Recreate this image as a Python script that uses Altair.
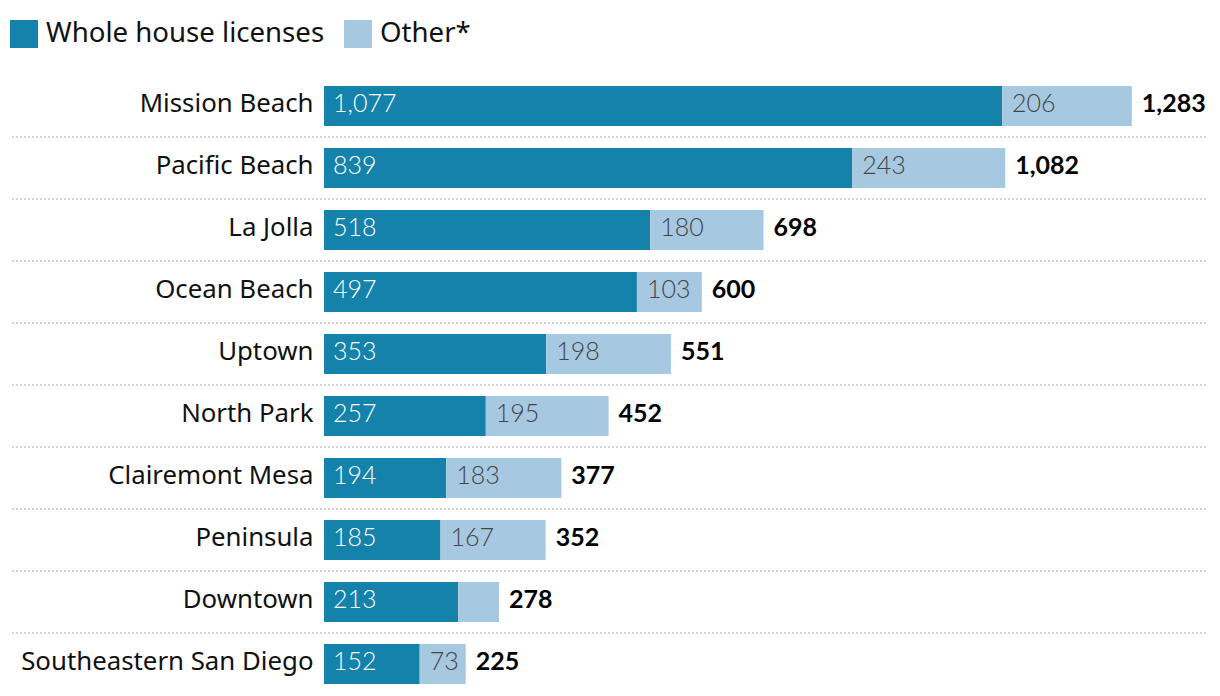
import altair as alt
import pandas as pd

categories = ["Mission Beach", "Pacific Beach", "La Jolla", "Ocean Beach", "Uptown",
              "North Park", "Clairemont Mesa", "Peninsula", "Downtown", "Southeastern San Diego"]
whole = [1077, 839, 518, 497, 353, 257, 194, 185, 213, 152]
other = [206, 243, 180, 103, 198, 195, 183, 167, 65, 73]
other_labels = ["206", "243", "180", "103", "198", "195", "183", "167", "", "73"]
series = ["Whole house licenses", "Other*"]
colors = ["#1582ab", "#a7c8e1"]

rows = []
for c, w, o, ol in zip(categories, whole, other, other_labels):
    rows.append({"cat": c, "series": series[0], "start": 0, "end": w, "label": f"{w:,}", "total": w + o})
    rows.append({"cat": c, "series": series[1], "start": w, "end": w + o, "label": ol, "total": w + o})
df = pd.DataFrame(rows)
tot = pd.DataFrame({"cat": categories, "total": [w + o for w, o in zip(whole, other)]})
tot["tlabel"] = tot["total"].map(lambda v: f"{v:,}")
rules_df = pd.DataFrame({"cat": categories[1:]})

FONT = "Lato"
LFONT = "Noto Sans"
W, H = 884, 612
xscale = alt.Scale(domain=[0, 1404], nice=False, zero=True)
yscale = alt.Scale(domain=categories, range=[0, 620], paddingInner=0.355, paddingOuter=0.177)
yaxis = alt.Axis(labelFont=LFONT, labelFontSize=25.8, labelColor="#111",
                 labelPadding=11, labelLimit=400, ticks=False, domain=False,
                 grid=False, labelFontWeight="normal", labelOffset=-2)

rules = alt.Chart(rules_df).mark_rule(
    color="#c8c8c8", strokeDash=[2, 2], strokeWidth=1.5, yOffset=-11
).encode(
    y=alt.Y("cat:N", scale=yscale, sort=categories, bandPosition=0, title=None, axis=yaxis),
    x=alt.value(-312), x2=alt.value(884),
)

bars = alt.Chart(df).mark_bar().encode(
    y=alt.Y("cat:N", scale=yscale, sort=categories, title=None, axis=yaxis),
    x=alt.X("start:Q", scale=xscale, axis=None),
    x2="end:Q",
    color=alt.Color("series:N", scale=alt.Scale(domain=series, range=colors),
                    legend=alt.Legend(orient="none", legendX=-314, legendY=-55,
                                      direction="horizontal", title=None,
                                      symbolType="square", symbolSize=784,
                                      symbolStrokeWidth=0, symbolOpacity=1,
                                      labelFont=LFONT, labelFontSize=27.6, labelColor="#111",
                                      labelLimit=400, columnPadding=19, labelOffset=8,
                                      padding=0)),
)

whole_text = alt.Chart(df[df["series"] == series[0]]).mark_text(
    align="left", baseline="middle", dx=9, dy=-2, font=FONT, fontSize=25, fontWeight=300, color="white"
).encode(
    y=alt.Y("cat:N", scale=yscale, sort=categories),
    x=alt.X("start:Q", scale=xscale),
    text="label:N",
)

other_text = alt.Chart(df[df["series"] == series[1]]).mark_text(
    align="left", baseline="middle", dx=10, dy=-2, font=FONT, fontSize=25, fontWeight=300, color="#444"
).encode(
    y=alt.Y("cat:N", scale=yscale, sort=categories),
    x=alt.X("start:Q", scale=xscale),
    text="label:N",
)

total_text = alt.Chart(tot).mark_text(
    align="left", baseline="middle", dx=10, dy=-2, font=FONT, fontSize=25, fontWeight="bold", color="black"
).encode(
    y=alt.Y("cat:N", scale=yscale, sort=categories),
    x=alt.X("total:Q", scale=xscale),
    text="tlabel:N",
)

chart = alt.layer(rules, bars, whole_text, other_text, total_text).properties(
    width=W, height=H,
    autosize=alt.AutoSizeParams(type="none"),
    padding={"left": 316, "top": 67, "right": 0, "bottom": 0},
).configure_view(stroke=None)

chart.save("out.html", embed_options={"renderer": "svg", "actions": False})
